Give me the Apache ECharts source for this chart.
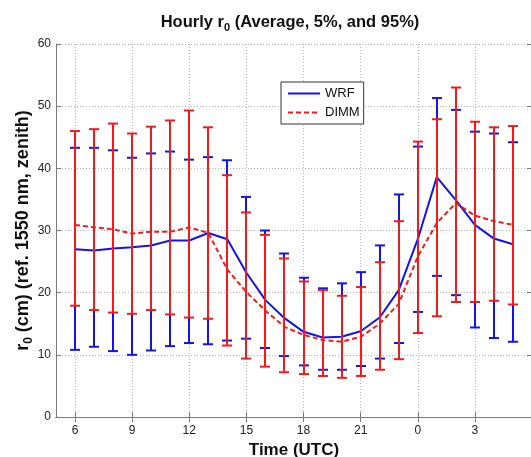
<!DOCTYPE html>
<html><head><meta charset="utf-8">
<script src="https://cdn.jsdelivr.net/npm/echarts@6/dist/echarts.min.js"></script>
<style>html,body{margin:0;padding:0;background:#fff}#c{width:531px;height:457px}</style>
</head><body><div id="c"></div>
<script>
// Hour of day (UTC) for each point
const hours = [6,7,8,9,10,11,12,13,14,15,16,17,18,19,20,21,22,23,0,1,2,3,4,5];
const xTickValues = [6,9,12,15,18,21,24,27];
const yTickValues = [0,10,20,30,40,50,60];

const wrfMean = [27.0,26.8,27.1,27.3,27.6,28.4,28.4,29.6,28.6,23.2,18.8,15.9,13.7,12.8,12.9,13.8,16.0,20.4,28.6,38.6,34.9,30.9,28.7,27.8];
const wrfLow  = [10.8,11.3,10.6,10.0,10.7,11.4,11.9,11.7,12.3,12.6,11.1,9.8,8.3,7.6,7.6,8.2,9.4,11.9,16.9,22.7,19.6,14.4,12.7,12.1];
const wrfHigh = [43.3,43.3,42.9,41.7,42.4,42.7,41.4,41.8,41.3,35.4,30.0,26.3,22.4,20.7,21.5,23.3,27.6,35.8,43.5,51.3,49.4,45.9,45.6,44.2];

const dimmMean = [30.9,30.5,30.2,29.5,29.8,29.8,30.5,29.6,23.7,20.1,17.1,14.5,13.2,12.4,12.1,12.9,15.0,18.2,25.8,31.2,34.4,32.4,31.5,30.9];
const dimmLow  = [17.9,17.2,16.8,16.6,17.2,16.5,16.0,15.8,11.5,9.4,8.1,7.2,6.9,6.6,6.3,6.6,7.6,9.3,13.5,16.2,18.5,18.5,18.7,18.1];
const dimmHigh = [46.0,46.3,47.2,45.6,46.7,47.7,49.3,46.6,38.9,32.9,29.3,25.5,21.8,20.4,19.5,20.9,24.9,31.5,44.3,47.9,53.0,47.5,46.6,46.8];

// continuous position along the axis (hours after midnight wrap onto 24+)
const xPos = hours.map(h => h < 6 ? h + 24 : h);

const BLUE = '#1414ea';
const RED = '#f01c1c';
const FONT = 'Liberation Sans, Arial, Helvetica, sans-serif';

function errSeries(name, low, high, color, z) {
  return {
    type: 'custom', name: name, z: z, silent: true,
    data: xPos.map((x, i) => [x, low[i], high[i]]),
    encode: { x: 0, y: [1, 2] },
    renderItem: function (params, api) {
      const x = api.value(0);
      const lo = api.coord([x, api.value(1)]);
      const hi = api.coord([x, api.value(2)]);
      const cx = Math.round(lo[0]);
      const hw = 5;
      const st = { stroke: color, lineWidth: 2 };
      return { type: 'group', children: [
        { type: 'line', shape: { x1: cx, y1: lo[1], x2: cx, y2: hi[1] }, style: st },
        { type: 'line', shape: { x1: cx - hw, y1: lo[1], x2: cx + hw, y2: lo[1] }, style: st },
        { type: 'line', shape: { x1: cx - hw, y1: hi[1], x2: cx + hw, y2: hi[1] }, style: st }
      ]};
    }
  };
}

const axisLineStyle = { color: '#7a7a7a', width: 1 };
const gridLine = { show: true, lineStyle: { type: [1, 2], color: '#b8b8b8', width: 1 } };

const chart = echarts.init(document.getElementById('c'), null, { renderer: 'canvas' });
chart.setOption({
  animation: false,
  backgroundColor: '#fff',
  textStyle: { fontFamily: FONT },
  title: {
    text: 'Hourly r{sub|0} (Average, 5%, and 95%)',
    left: 285, top: 7, textAlign: 'center',
    textStyle: {
      fontFamily: FONT, fontSize: 16.5, fontWeight: 'bold', color: '#111',
      rich: { sub: { fontFamily: FONT, fontSize: 11, fontWeight: 'bold', color: '#111', padding: [10, 0, 0, 0] } }
    }
  },
  legend: {
    data: ['WRF', 'DIMM'],
    orient: 'vertical', left: 281, top: 82,
    padding: [5, 4, 5, 6], itemGap: 6, itemWidth: 32, itemHeight: 12,
    borderColor: '#333', borderWidth: 1, borderRadius: 0, backgroundColor: '#fff',
    itemStyle: { opacity: 0 },
    textStyle: { fontFamily: FONT, fontSize: 13, color: '#111' }
  },
  grid: { left: 56, top: 44, width: 476, height: 373, containLabel: false, outerBoundsMode: 'none' },
  xAxis: [{
    type: 'value', min: 5, max: 30, position: 'bottom',
    name: 'Time (UTC)', nameLocation: 'middle', nameGap: 23,
    nameTextStyle: { fontFamily: FONT, fontSize: 17, fontWeight: 'bold', color: '#111', verticalAlign: 'top' },
    axisLine: { show: true, lineStyle: axisLineStyle },
    axisTick: { show: true, inside: true, length: 5, customValues: xTickValues, lineStyle: axisLineStyle },
    axisLabel: { customValues: xTickValues, margin: 8, fontSize: 12, color: '#222', fontFamily: FONT,
      formatter: v => String(v >= 24 ? v - 24 : v) },
    splitLine: gridLine
  }, {
    type: 'value', min: 5, max: 30, position: 'top',
    axisLine: { show: true, lineStyle: axisLineStyle },
    axisTick: { show: true, inside: true, length: 5, customValues: xTickValues, lineStyle: axisLineStyle },
    axisLabel: { show: false }, splitLine: { show: false }
  }],
  yAxis: [{
    type: 'value', min: 0, max: 60, interval: 10, position: 'left',
    name: 'r{sub|0} (cm) (ref. 1550 nm, zenith)', nameLocation: 'middle', nameGap: 21, nameRotate: 90,
    nameMoveOverlap: false,
    nameTextStyle: { fontFamily: FONT, fontSize: 18, fontWeight: 'bold', color: '#111',
      rich: { sub: { fontFamily: FONT, fontSize: 12, fontWeight: 'bold', color: '#111', padding: [11, 0, 0, 0] } } },
    axisLine: { show: true, lineStyle: axisLineStyle },
    axisTick: { show: true, inside: true, length: 5, lineStyle: axisLineStyle },
    axisLabel: { margin: 5, fontSize: 12, color: '#222', fontFamily: FONT },
    splitLine: gridLine
  }, {
    type: 'value', min: 0, max: 60, interval: 10, position: 'right',
    axisLine: { show: true, lineStyle: axisLineStyle },
    axisTick: { show: true, inside: true, length: 5, lineStyle: axisLineStyle },
    axisLabel: { show: false }, splitLine: { show: false }
  }],
  series: [
    errSeries('WRF range', wrfLow, wrfHigh, BLUE, 2),
    {
      type: 'line', name: 'WRF', z: 3, symbol: 'none', smooth: false,
      data: xPos.map((x, i) => [x, wrfMean[i]]),
      lineStyle: { color: BLUE, width: 2 }, itemStyle: { color: BLUE }
    },
    errSeries('DIMM range', dimmLow, dimmHigh, RED, 4),
    {
      type: 'line', name: 'DIMM', z: 5, symbol: 'none', smooth: false,
      data: xPos.map((x, i) => [x, dimmMean[i]]),
      lineStyle: { color: RED, width: 2, type: [5, 3] }, itemStyle: { color: RED }
    }
  ]
});
</script></body></html>
